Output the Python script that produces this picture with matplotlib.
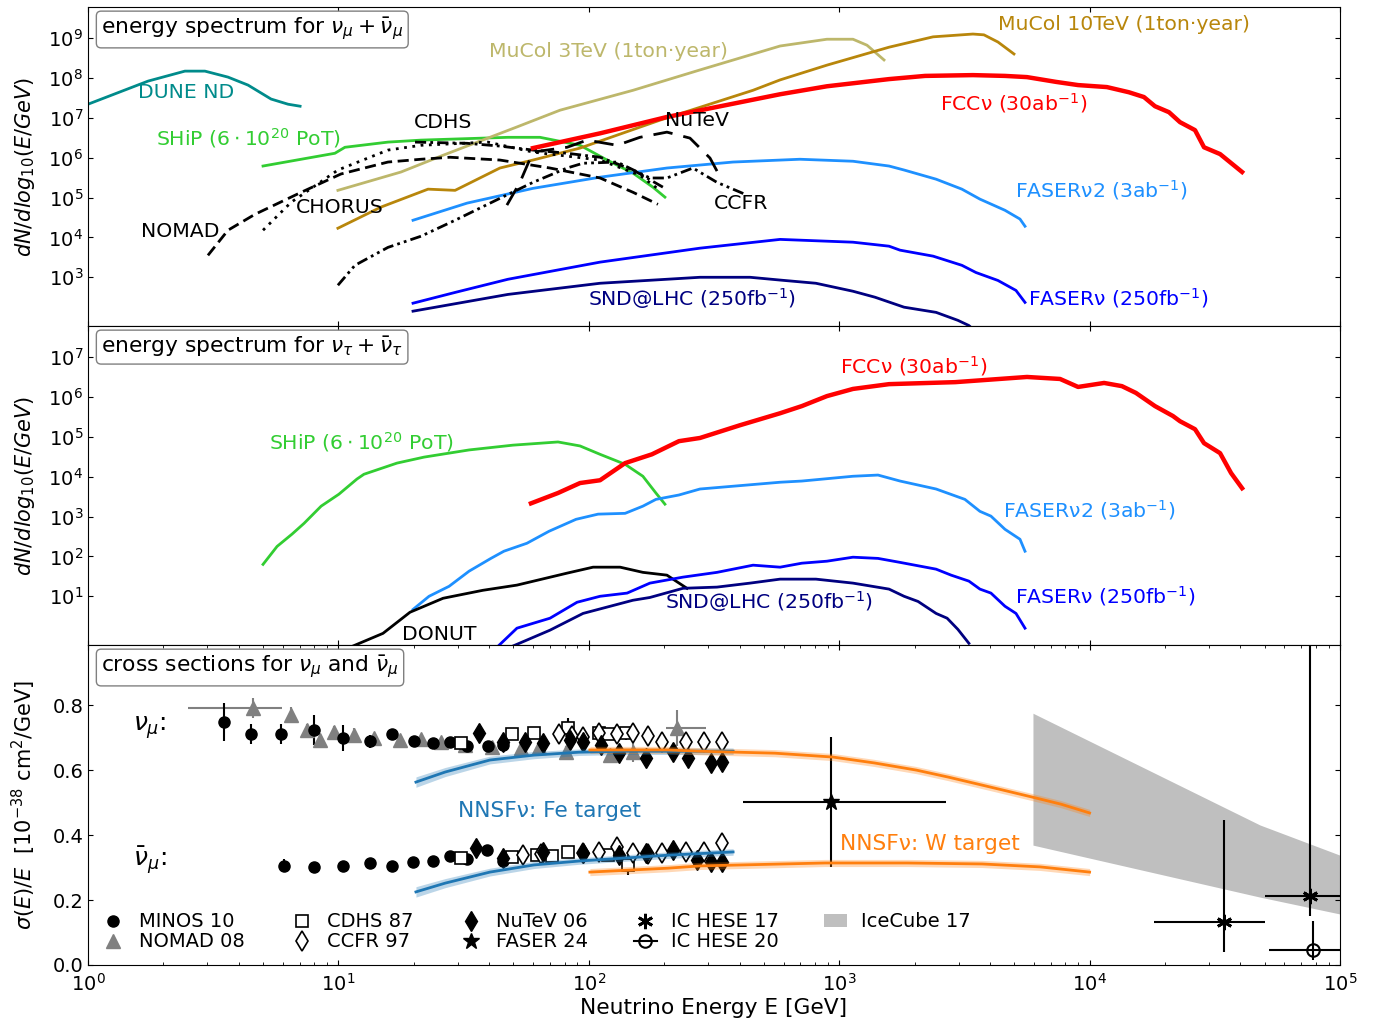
import numpy as np
import matplotlib
matplotlib.use('Agg')
import matplotlib.pyplot as plt
from matplotlib.lines import Line2D
from matplotlib.patches import Patch

plt.rcParams['font.family'] = ['DejaVu Sans']
plt.rcParams['font.size'] = 14
plt.rcParams['mathtext.fontset'] = 'dejavusans'

# ================= nu_mu spectra: log10(E/GeV), log10(dN/dlog10E) =================
dune_lgE = [0.0, 0.24, 0.387, 0.467, 0.559, 0.639, 0.731, 0.799, 0.847]
dune_lgN = [7.34, 7.92, 8.17, 8.17, 8.02, 7.82, 7.47, 7.34, 7.29]

shipmu_lgE = [0.699, 0.986, 1.026, 1.198, 1.330, 1.677, 1.805, 1.965, 2.073, 2.177, 2.256, 2.304]
shipmu_lgN = [5.79, 6.11, 6.26, 6.39, 6.44, 6.51, 6.51, 6.31, 5.94, 5.61, 5.26, 5.01]

mucol3_lgE = [0.998, 1.250, 1.418, 1.713, 1.885, 2.177, 2.444, 2.764, 2.951, 3.055, 3.111, 3.179]
mucol3_lgN = [5.18, 5.64, 6.06, 6.77, 7.19, 7.69, 8.20, 8.80, 8.97, 8.97, 8.82, 8.45]

mucol10_lgE = [0.998, 1.170, 1.358, 1.466, 1.645, 1.777, 1.965, 2.284, 2.656, 2.764, 2.951,
               3.199, 3.375, 3.534, 3.578, 3.634, 3.698]
mucol10_lgN = [4.23, 4.76, 5.21, 5.18, 5.74, 5.94, 6.24, 6.94, 7.69, 7.95, 8.32,
               8.77, 9.03, 9.10, 9.08, 8.90, 8.60]

fccmu_lgE = [1.777, 2.045, 2.312, 2.764, 2.951, 3.199, 3.343, 3.534, 3.662, 3.750, 3.866,
             3.954, 4.069, 4.157, 4.217, 4.261, 4.317, 4.361, 4.421, 4.457, 4.521, 4.609]
fccmu_lgN = [6.24, 6.61, 7.02, 7.59, 7.79, 7.97, 8.05, 8.07, 8.05, 8.02, 7.90,
             7.82, 7.77, 7.64, 7.52, 7.29, 7.14, 6.89, 6.69, 6.26, 6.09, 5.64]

faser2mu_lgE = [1.298, 1.514, 1.777, 2.045, 2.312, 2.576, 2.843, 3.055, 3.199, 3.259, 3.387,
                3.490, 3.562, 3.662, 3.722, 3.742]
faser2mu_lgN = [4.43, 4.86, 5.23, 5.51, 5.74, 5.89, 5.96, 5.91, 5.79, 5.69, 5.46,
                5.21, 4.96, 4.68, 4.46, 4.28]

fasermu_lgE = [1.298, 1.466, 1.677, 2.045, 2.444, 2.764, 3.055, 3.199, 3.243, 3.375, 3.490,
               3.546, 3.634, 3.706, 3.742]
fasermu_lgN = [2.35, 2.62, 2.95, 3.38, 3.73, 3.95, 3.88, 3.78, 3.68, 3.53, 3.30,
               3.12, 2.92, 2.67, 2.37]

sndmu_lgE = [1.298, 1.677, 2.045, 2.444, 2.644, 2.764, 2.907, 3.055, 3.143, 3.259, 3.387,
             3.474, 3.518, 3.542]
sndmu_lgN = [2.15, 2.57, 2.85, 3.00, 3.00, 2.93, 2.85, 2.65, 2.50, 2.25, 2.12,
             1.92, 1.79, 1.65]

nomad_lgE = [0.479, 0.559, 0.667, 0.851, 1.010, 1.198, 1.330, 1.446, 1.645, 1.845, 2.045, 2.177, 2.276]
nomad_lgN = [3.55, 4.18, 4.58, 5.13, 5.59, 5.89, 5.96, 6.01, 5.94, 5.74, 5.49, 5.13, 4.83]

chorus_lgE = [0.699, 0.811, 0.998, 1.198, 1.330, 1.597, 1.777, 2.045, 2.204, 2.284]
chorus_lgN = [4.18, 4.88, 5.69, 6.19, 6.31, 6.39, 6.14, 5.94, 5.56, 5.18]

cdhs_lgE = [1.306, 1.514, 1.645, 1.777, 1.913, 2.045, 2.177, 2.296]
cdhs_lgN = [6.39, 6.36, 6.29, 6.19, 6.11, 6.01, 5.69, 5.26]

ccfr_lgE = [0.998, 1.066, 1.198, 1.330, 1.466, 1.645, 1.777, 1.913, 1.977, 2.113, 2.244,
            2.312, 2.416, 2.512, 2.632]
ccfr_lgN = [2.80, 3.30, 3.75, 4.03, 4.43, 4.98, 5.38, 5.74, 5.86, 5.89, 5.49,
            5.49, 5.74, 5.38, 5.06]

nutev_lgE = [1.673, 1.725, 1.777, 1.913, 1.993, 2.113, 2.204, 2.312, 2.404, 2.484, 2.532]
nutev_lgN = [4.81, 5.38, 6.14, 6.26, 6.44, 6.31, 6.51, 6.64, 6.49, 5.99, 5.43]

# ================= nu_tau spectra =================
shiptau_lgE = [0.699, 0.755, 0.815, 0.863, 0.931, 1.002, 1.074, 1.102, 1.234, 1.342, 1.522,
               1.697, 1.877, 1.965, 2.045, 2.145, 2.216, 2.268, 2.304]
shiptau_lgN = [1.80, 2.25, 2.56, 2.83, 3.26, 3.56, 3.94, 4.06, 4.34, 4.49, 4.67,
               4.79, 4.87, 4.77, 4.56, 4.31, 4.01, 3.59, 3.31]

fcctau_lgE = [1.769, 1.877, 1.965, 2.045, 2.145, 2.252, 2.360, 2.444, 2.604, 2.764, 2.851,
              2.951, 3.055, 3.199, 3.463, 3.750, 3.882, 3.954, 4.058, 4.129, 4.185,
              4.261, 4.333, 4.361, 4.421, 4.457, 4.521, 4.565, 4.609]
fcctau_lgN = [3.33, 3.59, 3.84, 3.91, 4.34, 4.56, 4.89, 4.97, 5.29, 5.59, 5.77,
              6.02, 6.20, 6.32, 6.37, 6.50, 6.45, 6.25, 6.35, 6.27, 6.10,
              5.77, 5.52, 5.39, 5.19, 4.84, 4.59, 4.09, 3.71]

faser2tau_lgE = [1.298, 1.362, 1.442, 1.522, 1.609, 1.661, 1.753, 1.841, 1.949, 2.037, 2.145,
                 2.216, 2.268, 2.360, 2.444, 2.764, 2.851, 3.055, 3.155, 3.243, 3.387,
                 3.502, 3.562, 3.606, 3.662, 3.722, 3.742]
faser2tau_lgN = [0.67, 1.00, 1.25, 1.63, 1.95, 2.13, 2.33, 2.63, 2.93, 3.06, 3.08,
                 3.26, 3.43, 3.54, 3.69, 3.86, 3.89, 4.01, 4.04, 3.89, 3.69,
                 3.43, 3.13, 3.01, 2.68, 2.43, 2.13]

donut_lgE = [1.046, 1.178, 1.286, 1.418, 1.577, 1.713, 1.913, 2.017, 2.125, 2.216, 2.312, 2.392]
donut_lgN = [-0.28, 0.07, 0.60, 0.95, 1.15, 1.28, 1.58, 1.73, 1.73, 1.60, 1.53, 1.20]

fasertau_lgE = [1.633, 1.713, 1.845, 1.953, 2.045, 2.153, 2.244, 2.376, 2.512, 2.656, 2.764,
                2.851, 2.951, 3.055, 3.155, 3.243, 3.387, 3.447, 3.518, 3.562, 3.606,
                3.662, 3.706, 3.742]
fasertau_lgN = [-0.28, 0.20, 0.45, 0.85, 1.00, 1.08, 1.33, 1.48, 1.60, 1.78, 1.73,
                1.83, 1.88, 1.98, 1.95, 1.85, 1.68, 1.53, 1.38, 1.18, 1.08,
                0.75, 0.57, 0.20]

sndtau_lgE = [1.685, 1.845, 1.977, 2.176, 2.244, 2.376, 2.512, 2.644, 2.764, 2.907, 3.055,
              3.199, 3.259, 3.315, 3.387, 3.431, 3.474, 3.518]
sndtau_lgN = [-0.28, 0.15, 0.57, 0.90, 0.97, 1.20, 1.23, 1.33, 1.43, 1.43, 1.33,
              1.18, 1.00, 0.87, 0.57, 0.45, 0.17, -0.18]

# ================= cross sections sigma/E [1e-38 cm^2/GeV] =================
minos_nu_E = [3.49, 4.48, 5.90, 8.0, 10.4, 13.4, 16.4, 20.0, 23.9, 27.9, 32.7, 39.6, 45.4]
minos_nu_s = [0.748, 0.711, 0.711, 0.723, 0.698, 0.689, 0.711, 0.689, 0.683, 0.686, 0.674, 0.674, 0.677]
minos_nu_err = [0.06, 0.03, 0.03, 0.045, 0.04, 0.02, 0.015, 0.012, 0.012, 0.012, 0.012, 0.012, 0.012]
minos_nb_E = [6.06, 8.0, 10.4, 13.4, 16.4, 19.8, 23.9, 27.9, 32.7, 39.2, 45.4]
minos_nb_s = [0.305, 0.302, 0.305, 0.314, 0.305, 0.317, 0.320, 0.335, 0.326, 0.354, 0.320]
minos_nb_err = [0.02, 0.012, 0.01, 0.01, 0.01, 0.01, 0.01, 0.01, 0.01, 0.01, 0.01]

nomad_E = [4.56, 6.47, 7.50, 8.45, 9.6, 11.5, 13.9, 17.6, 21.4, 25.7, 32.1, 41.0, 53.6, 63.3,
           81.1, 122, 150, 225]
nomad_s = [0.791, 0.769, 0.723, 0.692, 0.717, 0.708, 0.698, 0.692, 0.695, 0.686, 0.677, 0.671,
           0.668, 0.671, 0.655, 0.646, 0.655, 0.729]
nomad_err = [0.03, 0.025, 0.02, 0.02, 0.02, 0.02, 0.015, 0.015, 0.015, 0.015, 0.015, 0.015,
             0.015, 0.015, 0.02, 0.02, 0.03, 0.055]
nomad_Elo = [2.05, 0, 0, 0, 0, 0, 0, 0, 0, 0, 0, 0, 0, 0, 0, 0, 0, 22]
nomad_Ehi = [1.39, 0, 0, 0, 0, 0, 0, 0, 0, 0, 0, 0, 0, 0, 0, 0, 0, 69]

cdhs_nu_E = [30.9, 49.3, 60.4, 82.6, 110, 119, 141]
cdhs_nu_s = [0.683, 0.711, 0.714, 0.729, 0.714, 0.711, 0.714]
cdhs_nu_err = [0.012, 0.015, 0.015, 0.03, 0.015, 0.015, 0.02]
cdhs_nb_E = [30.9, 49.3, 62.0, 71.4, 82.6, 119, 143]
cdhs_nb_s = [0.329, 0.332, 0.338, 0.335, 0.348, 0.338, 0.308]
cdhs_nb_err = [0.01, 0.01, 0.01, 0.01, 0.012, 0.012, 0.03]

ccfr_nu_E = [76, 85.7, 94.8, 110, 130, 150, 172, 196, 244, 288, 340]
ccfr_nu_s = [0.711, 0.705, 0.702, 0.714, 0.711, 0.714, 0.705, 0.686, 0.686, 0.686, 0.686]
ccfr_nu_err = [0.015, 0.015, 0.015, 0.02, 0.02, 0.025, 0.015, 0.015, 0.015, 0.015, 0.015]
ccfr_nb_E = [54.6, 64.4, 94.8, 110, 130, 150, 172, 196, 244, 288, 340]
ccfr_nb_s = [0.338, 0.342, 0.345, 0.348, 0.363, 0.345, 0.342, 0.345, 0.348, 0.348, 0.375]
ccfr_nb_err = [0.01, 0.01, 0.01, 0.012, 0.015, 0.012, 0.01, 0.01, 0.01, 0.012, 0.02]

nutev_nu_E = [36.4, 45.4, 55.6, 65.6, 84.1, 94.8, 112, 132, 169, 217, 249, 308, 340]
nutev_nu_s = [0.714, 0.686, 0.686, 0.683, 0.692, 0.686, 0.677, 0.652, 0.637, 0.655, 0.637, 0.622, 0.625]
nutev_nu_err = [0.012] * 13
nutev_nb_E = [35.4, 45.4, 65.6, 94.8, 132, 169, 217, 270, 308, 340]
nutev_nb_s = [0.360, 0.329, 0.348, 0.345, 0.338, 0.345, 0.354, 0.323, 0.317, 0.317]
nutev_nb_err = [0.01] * 10

faser_E = [927]
faser_s = [0.502]
faser_Elo = [514]
faser_Ehi = [1743]
faser_err = [0.2]

ic17_E = [34400, 75900]
ic17_s = [0.132, 0.212]
ic17_Elo = [16300, 25800]
ic17_Ehi = [15700, 60000]
ic17_slo = [0.092, 0.06]
ic17_shi = [0.314, 1.0]

ic20_E = [78000]
ic20_s = [0.046]
ic20_Elo = [26000]
ic20_Ehi = [40000]
ic20_slo = [0.03]
ic20_shi = [0.09]

icecube_E = [5940, 47900, 100000]
icecube_lo = [0.369, 0.209, 0.157]
icecube_hi = [0.775, 0.431, 0.338]

nnsf_fe_E = [20.4, 26.7, 40.3, 60.4, 91.4, 138, 207, 377]
nnsf_fe_nu = [0.563, 0.594, 0.631, 0.646, 0.655, 0.658, 0.658, 0.658]
nnsf_fe_nb = [0.225, 0.252, 0.286, 0.308, 0.320, 0.329, 0.338, 0.348]
nnsf_fe_unc = [0.016, 0.014, 0.012, 0.011, 0.010, 0.010, 0.010, 0.010]

nnsf_w_nu_E = [101, 207, 278, 554, 945, 1380, 2030, 2740, 4000, 5890, 7690, 10000]
nnsf_w_nu = [0.662, 0.662, 0.658, 0.652, 0.640, 0.622, 0.600, 0.578, 0.548, 0.517, 0.495, 0.468]
nnsf_w_nb_E = [101, 207, 278, 877, 1870, 3720, 6340, 10000]
nnsf_w_nb = [0.286, 0.298, 0.305, 0.314, 0.314, 0.311, 0.302, 0.286]
nnsf_w_unc = 0.011

# ================= figure =================
W, H = 1384, 1030
fig = plt.figure(figsize=(W / 100, H / 100), dpi=100)
L, R = 88 / W, 1340 / W
ax1 = fig.add_axes([L, 1 - 326 / H, R - L, 319 / H])
ax2 = fig.add_axes([L, 1 - 645 / H, R - L, 319 / H], sharex=ax1)
ax3 = fig.add_axes([L, 1 - 965 / H, R - L, 320 / H], sharex=ax1)


def P(lg):
    return 10 ** np.asarray(lg, dtype=float)


C_DUNE = '#008B8B'
C_SHIP = '#32CD32'
C_MU3 = '#BDB76B'
C_MU10 = '#B8860B'
C_FCC = '#FF0000'
C_F2 = '#1E90FF'
C_F1 = '#0000FF'
C_SND = '#000080'

fs = 14.7      # curve labels
fsb = 15.7     # box titles / axis labels / NNSF labels

# ---- top panel ----
ax1.plot(P(dune_lgE), P(dune_lgN), color=C_DUNE, lw=2)
ax1.plot(P(shipmu_lgE), P(shipmu_lgN), color=C_SHIP, lw=2)
ax1.plot(P(mucol3_lgE), P(mucol3_lgN), color=C_MU3, lw=2)
ax1.plot(P(mucol10_lgE), P(mucol10_lgN), color=C_MU10, lw=2)
ax1.plot(P(faser2mu_lgE), P(faser2mu_lgN), color=C_F2, lw=2)
ax1.plot(P(fasermu_lgE), P(fasermu_lgN), color=C_F1, lw=2)
ax1.plot(P(sndmu_lgE), P(sndmu_lgN), color=C_SND, lw=2)
ax1.plot(P(nomad_lgE), P(nomad_lgN), color='k', lw=2, ls=(0, (4, 2)))
ax1.plot(P(chorus_lgE), P(chorus_lgN), color='k', lw=2, ls=(0, (1, 2)))
ax1.plot(P(cdhs_lgE), P(cdhs_lgN), color='k', lw=2, ls=(0, (4, 1.5, 1, 1.5)))
ax1.plot(P(ccfr_lgE), P(ccfr_lgN), color='k', lw=2, ls=(0, (4, 1.5, 1, 1.5, 1, 1.5)))
ax1.plot(P(nutev_lgE), P(nutev_lgN), color='k', lw=2, ls=(0, (7, 4)))
ax1.plot(P(fccmu_lgE), P(fccmu_lgN), color=C_FCC, lw=3.2)

ax1.text(10 ** 0.2, 10 ** 7.64, 'DUNE ND', color=C_DUNE, fontsize=fs, va='center')
ax1.text(10 ** 0.272, 10 ** 6.49, r'SHiP ($6\cdot10^{20}$ PoT)', color=C_SHIP, fontsize=fs, va='center')
ax1.text(10 ** 1.302, 10 ** 6.87, 'CDHS', color='k', fontsize=fs, va='center')
ax1.text(10 ** 2.304, 10 ** 6.94, 'NuTeV', color='k', fontsize=fs, va='center')
ax1.text(10 ** 0.831, 10 ** 4.76, 'CHORUS', color='k', fontsize=fs, va='center')
ax1.text(10 ** 0.212, 10 ** 4.15, 'NOMAD', color='k', fontsize=fs, va='center')
ax1.text(10 ** 2.50, 10 ** 4.86, 'CCFR', color='k', fontsize=fs, va='center')
ax1.text(10 ** 1.601, 10 ** 8.67, 'MuCol 3TeV (1ton·year)', color=C_MU3, fontsize=fs, va='center')
ax1.text(10 ** 3.634, 10 ** 9.35, 'MuCol 10TeV (1ton·year)', color=C_MU10, fontsize=fs, va='center')
ax1.text(10 ** 3.403, 10 ** 7.37, r'FCCν (30ab$^{-1}$)', color=C_FCC, fontsize=fs, va='center')
ax1.text(10 ** 3.702, 10 ** 5.18, r'FASERν2 (3ab$^{-1}$)', color=C_F2, fontsize=fs, va='center')
ax1.text(10 ** 3.754, 10 ** 2.47, r'FASERν (250fb$^{-1}$)', color=C_F1, fontsize=fs, va='center')
ax1.text(10 ** 1.997, 10 ** 2.47, r'SND@LHC (250fb$^{-1}$)', color=C_SND, fontsize=fs, va='center')

# ---- middle panel ----
ax2.plot(P(shiptau_lgE), P(shiptau_lgN), color=C_SHIP, lw=2)
ax2.plot(P(faser2tau_lgE), P(faser2tau_lgN), color=C_F2, lw=2)
ax2.plot(P(donut_lgE), P(donut_lgN), color='k', lw=2)
ax2.plot(P(fasertau_lgE), P(fasertau_lgN), color=C_F1, lw=2)
ax2.plot(P(sndtau_lgE), P(sndtau_lgN), color=C_SND, lw=2)
ax2.plot(P(fcctau_lgE), P(fcctau_lgN), color=C_FCC, lw=3.2)

ax2.text(10 ** 0.723, 10 ** 4.87, r'SHiP ($6\cdot10^{20}$ PoT)', color=C_SHIP, fontsize=fs, va='center')
ax2.text(10 ** 3.003, 10 ** 6.77, r'FCCν (30ab$^{-1}$)', color=C_FCC, fontsize=fs, va='center')
ax2.text(10 ** 3.654, 10 ** 3.16, r'FASERν2 (3ab$^{-1}$)', color=C_F2, fontsize=fs, va='center')
ax2.text(10 ** 3.702, 10 ** 1.00, r'FASERν (250fb$^{-1}$)', color=C_F1, fontsize=fs, va='center')
ax2.text(10 ** 2.304, 10 ** 0.87, r'SND@LHC (250fb$^{-1}$)', color=C_SND, fontsize=fs, va='center')
ax2.text(10 ** 1.254, 10 ** 0.045, 'DONUT', color='k', fontsize=fs, va='center')

# ---- bottom panel ----
ax3.fill_between(icecube_E, icecube_lo, icecube_hi, color='0.75', lw=0, zorder=1)

eb = dict(capsize=0, elinewidth=1.5, zorder=3)
ax3.errorbar(nomad_E, nomad_s, yerr=nomad_err, xerr=[nomad_Elo, nomad_Ehi], fmt='^',
             color='grey', ms=10, **eb)
for E_, s_, e_ in [(minos_nu_E, minos_nu_s, minos_nu_err), (minos_nb_E, minos_nb_s, minos_nb_err)]:
    ax3.errorbar(E_, s_, yerr=e_, fmt='o', color='k', ms=8, **eb)
for E_, s_, e_ in [(cdhs_nu_E, cdhs_nu_s, cdhs_nu_err), (cdhs_nb_E, cdhs_nb_s, cdhs_nb_err)]:
    ax3.errorbar(E_, s_, yerr=e_, fmt='s', color='k', mfc='white', ms=8, mew=1.2, **eb)
for E_, s_, e_ in [(ccfr_nu_E, ccfr_nu_s, ccfr_nu_err), (ccfr_nb_E, ccfr_nb_s, ccfr_nb_err)]:
    ax3.errorbar(E_, s_, yerr=e_, fmt='d', color='k', mfc='white', ms=10, mew=1.2, **eb)
for E_, s_, e_ in [(nutev_nu_E, nutev_nu_s, nutev_nu_err), (nutev_nb_E, nutev_nb_s, nutev_nb_err)]:
    ax3.errorbar(E_, s_, yerr=e_, fmt='d', color='k', ms=10, **eb)
ax3.errorbar(faser_E, faser_s, xerr=[faser_Elo, faser_Ehi], yerr=faser_err, fmt='*',
             color='k', ms=12, **eb)
ax3.errorbar(ic17_E, ic17_s, xerr=[ic17_Elo, ic17_Ehi], yerr=[ic17_slo, ic17_shi],
             fmt='none', ecolor='k', **eb)
ax3.plot(ic17_E, ic17_s, ls='none', marker=(6, 2, 0), color='k', ms=11, mew=2, zorder=4)
ax3.errorbar(ic20_E, ic20_s, xerr=[ic20_Elo, ic20_Ehi], yerr=[ic20_slo, ic20_shi], fmt='o',
             color='k', mfc='none', ms=9, mew=1.5, **eb)

# NNSF bands
fe = np.asarray(nnsf_fe_E)
for vals in (nnsf_fe_nu, nnsf_fe_nb):
    v = np.asarray(vals)
    u = np.asarray(nnsf_fe_unc)
    ax3.fill_between(fe, v - u, v + u, color='tab:blue', alpha=0.3, lw=0, zorder=5)
    ax3.plot(fe, v, color='tab:blue', lw=2, zorder=6)
for E_, vals in ((nnsf_w_nu_E, nnsf_w_nu), (nnsf_w_nb_E, nnsf_w_nb)):
    v = np.asarray(vals)
    ax3.fill_between(E_, v - nnsf_w_unc, v + nnsf_w_unc, color='tab:orange', alpha=0.3, lw=0, zorder=5)
    ax3.plot(E_, v, color='tab:orange', lw=2, zorder=6)

ax3.text(10 ** 0.18, 0.732, r'$\nu_\mu$:', fontsize=18, va='center')
ax3.text(10 ** 0.18, 0.323, r'$\bar\nu_\mu$:', fontsize=18, va='center')
ax3.text(30.0, 0.474, 'NNSFν: Fe target', color='tab:blue', fontsize=fsb, va='center')
ax3.text(1007, 0.372, 'NNSFν: W target', color='tab:orange', fontsize=fsb, va='center')

handles = [
    Line2D([], [], ls='none', marker='o', color='k', ms=8),
    Line2D([], [], ls='none', marker='^', color='grey', ms=10),
    Line2D([], [], ls='none', marker='s', color='k', mfc='white', ms=8, mew=1.2),
    Line2D([], [], ls='none', marker='d', color='k', mfc='white', ms=10, mew=1.2),
    Line2D([], [], ls='none', marker='d', color='k', ms=10),
    Line2D([], [], ls='none', marker='*', color='k', ms=12),
    Line2D([], [], ls='none', marker=(6, 2, 0), color='k', ms=11, mew=2),
    Line2D([], [], ls='-', marker='o', color='k', mfc='none', ms=9, mew=1.5, lw=1.5),
    Patch(facecolor='0.75', edgecolor='none'),
]
labels = ['MINOS 10', 'NOMAD 08', 'CDHS 87', 'CCFR 97', 'NuTeV 06', 'FASER 24',
          'IC HESE 17', 'IC HESE 20', 'IceCube 17']
ax3.legend(handles, labels, ncol=5, loc='lower left', frameon=False, fontsize=14,
           labelspacing=0.05, handlelength=1.2, handletextpad=0.7, columnspacing=2.35,
           borderaxespad=0.3, bbox_to_anchor=(0.0, 0.0))

# ---- axes styling ----
box = dict(boxstyle='round,pad=0.22', fc='white', ec='0.5', lw=1)
ax1.text(0.0105, 0.972, r'energy spectrum for $\nu_\mu+\bar\nu_\mu$', transform=ax1.transAxes,
         fontsize=fsb, va='top', ha='left', bbox=box)
ax2.text(0.0105, 0.972, r'energy spectrum for $\nu_\tau+\bar\nu_\tau$', transform=ax2.transAxes,
         fontsize=fsb, va='top', ha='left', bbox=box)
ax3.text(0.0105, 0.972, r'cross sections for $\nu_\mu$ and $\bar\nu_\mu$', transform=ax3.transAxes,
         fontsize=fsb, va='top', ha='left', bbox=box)

ax1.set_xscale('log')
ax1.set_xlim(1, 1e5)
for ax in (ax1, ax2):
    ax.set_yscale('log')
    ax.set_ylabel(r'$dN/dlog_{10}(E/GeV)$', fontsize=15, labelpad=8)
    ax.yaxis.set_minor_locator(matplotlib.ticker.NullLocator())
    ax.tick_params(axis='x', which='minor', length=0)
    ax.tick_params(axis='x', labelbottom=False)
ax1.set_ylim(60, 6e9)
ax1.set_yticks([1e3, 1e4, 1e5, 1e6, 1e7, 1e8, 1e9])
ax2.set_ylim(0.6, 6e7)
ax2.set_yticks([1e1, 1e2, 1e3, 1e4, 1e5, 1e6, 1e7])
ax3.set_ylim(0, 0.985)
ax3.set_yticks([0.0, 0.2, 0.4, 0.6, 0.8])
ax3.set_ylabel(r'$\sigma(E)/E\ \ [10^{-38}\ \mathrm{cm}^2/\mathrm{GeV}]$', fontsize=15, labelpad=10)
ax3.set_xlabel('Neutrino Energy E [GeV]', fontsize=fsb, labelpad=2)
for ax in (ax1, ax2, ax3):
    ax.tick_params(which='both', direction='in', top=True, right=True, labelsize=14)
ax3.tick_params(axis='x', which='major', pad=6)

fig.savefig('out.png', dpi=100)
